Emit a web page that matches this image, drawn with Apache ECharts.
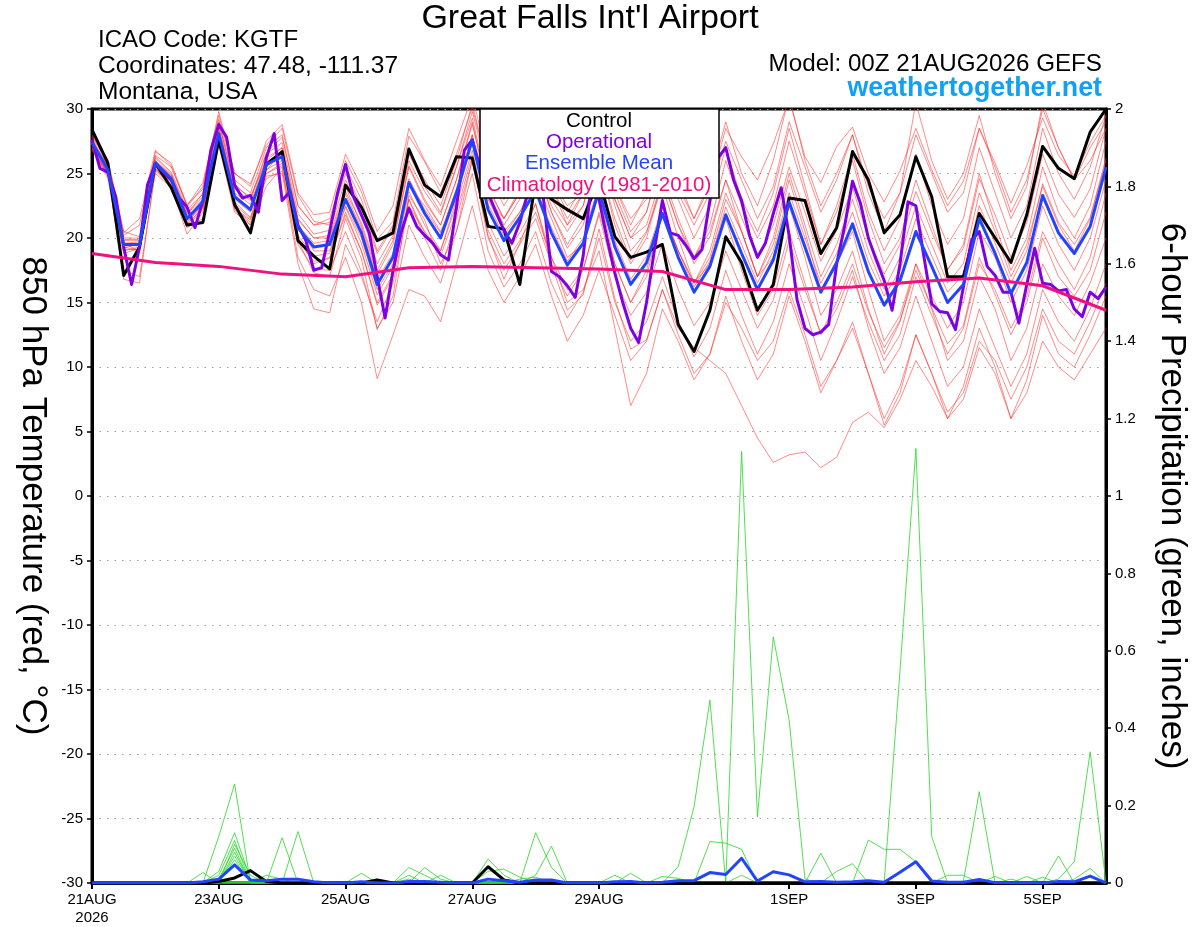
<!DOCTYPE html>
<html>
<head>
<meta charset="utf-8">
<script src="https://cdn.jsdelivr.net/npm/echarts@6/dist/echarts.min.js"></script>
<style>
html,body{margin:0;padding:0;background:#fff;}
#chart{width:1200px;height:927px;}
</style>
</head>
<body>
<div id="chart"></div>
<script>
// ---------- axis ticks / labels ----------
const tickHours = [0, 48, 96, 144, 192, 264, 312, 360];
const tickLabels = ['21AUG\n2026', '23AUG', '25AUG', '27AUG', '29AUG', '1SEP', '3SEP', '5SEP'];

// ---------- 850 hPa temperature (6-hourly unless noted) ----------
const controlTemp = [28.4,25.8,17.1,19.3,25.8,23.9,21.0,21.2,
  27.6,22.6,20.4,25.7,26.7,19.8,18.6,17.6,
  24.1,22.4,19.8,20.4,26.9,24.1,23.2,26.3,
  26.2,20.9,20.7,16.4,24.5,23.0,22.2,21.5,
  24.6,20.1,18.5,18.9,19.5,13.3,11.2,14.4,
  20.1,18.1,14.4,16.4,23.1,22.9,18.8,20.8,
  26.7,24.5,20.4,21.8,26.3,23.2,17.0,17.0,
  21.9,20.0,18.1,21.8,27.1,25.4,24.6,28.2,
  30.0];

// operational run is 3-hourly
const operationalTemp = [27.6,25.4,25.1,23.2,19.3,16.4,19.3,24.1,
  25.8,25.1,24.5,23.1,22.4,20.8,22.9,26.8,
  28.8,27.8,24.1,23.1,23.3,22.0,26.2,28.1,
  22.9,23.6,21.0,19.8,17.5,17.7,20.5,23.5,
  25.7,23.2,21.8,20.4,17.0,13.8,17.5,20.4,
  22.3,20.9,20.2,19.6,18.7,18.3,22.4,26.8,
  27.6,25.5,23.5,22.0,20.6,19.6,21.2,23.5,
  25.0,23.0,17.4,17.0,16.3,15.4,18.6,24.0,
  23.0,20.0,17.3,15.0,13.0,11.9,15.0,19.1,
  22.9,20.4,20.2,19.4,18.4,19.1,22.9,26.2,
  27.0,24.5,22.9,20.2,18.5,19.6,21.9,23.9,
  20.2,15.2,13.0,12.5,12.7,13.3,18.0,20.9,
  24.4,22.7,20.0,18.3,16.7,14.4,18.0,22.8,
  22.5,18.6,14.9,14.3,14.2,12.9,16.2,19.8,
  20.5,17.8,17.1,15.8,15.8,13.4,16.4,19.2,
  16.5,16.4,15.9,16.0,14.5,13.9,15.8,15.3,
  16.2];

const meanTemp = [27.4,25.3,19.5,19.5,25.8,24.6,21.5,22.8,28.1,
  23.2,22.2,25.7,26.3,20.8,19.3,19.5,23.0,
  20.4,16.4,18.5,24.3,21.9,20.0,23.5,27.6,
  22.2,19.8,21.6,23.7,20.4,17.9,19.6,23.7,
  19.3,16.4,18.1,21.9,18.5,15.8,17.8,21.8,
  18.8,16.0,18.3,22.8,19.3,15.8,18.1,21.1,
  17.4,14.8,16.7,20.5,17.8,15.0,16.4,21.5,
  18.8,15.7,18.1,23.3,20.4,18.8,20.9,25.5];

// climatology, daily (every 24 h)
const climoTemp = [18.8,18.1,17.8,17.2,17.0,17.7,17.8,17.7,17.6,17.4,16.0,16.0,16.2,16.6,16.9,16.3,14.4];

// ensemble members (6-hourly)
const member01 = [27.9,26.1,20.5,20.1,26.7,25.8,22.5,24.3,29.5, 25.0,24.2,27.2,28.5,23.3,21.3,21.0,26.0, 23.6,19.9,21.3,27.9,25.9,23.5,26.5,30.1, 25.5,23.5,25.0,27.5,24.5,22.5,23.5,28.0, 24.0,21.5,23.0,27.0,24.0,21.5,24.0,28.5, 26.3,24.5,27.3,30.8,26.3,24.3,27.1,28.6, 25.0,22.8,25.2,28.5,25.3,22.5,24.4,28.5, 25.8,22.7,25.6,29.3,26.4,24.8,27.4,29.5];
const member02 = [26.9,25.0,16.8,16.5,25.4,24.0,20.3,22.0,27.8, 22.2,20.7,25.2,26.8,19.8,17.3,17.0,21.5, 18.4,12.9,15.5,23.3,21.4,18.0,20.5,26.1, 20.2,16.8,19.6,22.7,17.9,14.4,15.6,20.7, 15.3,11.4,12.1,16.0,13.0,11.5,10.5,9.5, 7.0,4.5,2.6,3.2,3.4,2.2,3.0,5.7, 6.5,5.3,7.5,10.5,8.5,6.0,7.5,11.5, 9.5,6.0,8.0,12.0,10.0,9.0,11.0,13.0];
const member03 = [27.0,24.6,18.8,19.2,25.0,23.9,20.8,21.5,27.2, 22.0,21.0,24.0,25.5,18.5,16.0,15.5,18.5, 15.0,9.1,12.5,16.0,15.5,13.5,18.0,22.5, 17.5,15.0,17.0,19.5,15.5,12.0,14.0,17.5, 14.0,10.5,12.0,16.0,12.5,9.5,11.0,15.5, 12.0,9.0,11.0,15.5,12.0,8.0,10.5,13.5, 9.5,5.5,8.0,12.5,9.5,6.0,8.5,13.0, 10.0,6.0,9.0,14.0,11.0,10.0,12.5,15.5];
const member04 = [27.6,25.6,19.9,19.8,26.2,25.0,22.0,23.2,28.6, 23.8,22.9,26.5,27.4,21.9,20.3,20.6,24.5, 21.9,18.0,20.2,26.0,23.6,21.8,25.5,29.3, 24.0,21.5,23.8,26.0,22.0,19.2,21.0,25.8, 21.5,18.3,20.4,24.6,21.0,18.0,20.1,24.5, 21.6,18.5,21.0,25.5,22.0,18.2,20.6,23.9, 20.0,17.2,19.5,23.6,20.5,17.6,19.2,24.6, 21.8,18.5,21.2,26.5,23.4,21.6,23.8,28.5];
const member05 = [27.1,24.9,19.0,19.3,25.4,24.2,21.0,22.4,27.7, 22.6,21.5,25.0,25.6,19.8,18.2,18.4,21.8, 19.0,15.0,17.2,23.0,20.4,18.6,22.0,26.4, 20.6,18.0,19.8,22.0,18.5,16.0,17.6,21.8, 17.0,14.0,15.8,19.6,16.0,13.2,15.0,19.0, 16.0,13.0,15.2,19.8,16.0,12.6,15.0,18.0, 14.3,11.5,13.6,17.5,14.6,11.8,13.2,18.5, 15.6,12.5,15.0,20.0,17.0,15.5,17.5,22.0];
const member06 = [27.8,25.9,20.2,21.0,26.4,25.5,22.6,23.8,29.2, 24.5,23.5,27.0,28.0,22.5,21.0,21.5,25.5, 23.0,19.0,21.0,26.8,24.5,22.5,26.0,30.4, 25.5,23.0,24.5,27.5,24.0,21.0,23.5,27.5, 23.5,20.5,22.0,26.5,23.0,20.0,22.5,27.0, 23.0,20.5,23.5,28.5,24.0,19.5,22.0,26.0, 21.5,18.0,20.0,24.5,21.0,17.5,19.5,25.0, 21.0,17.5,20.0,25.5,22.0,20.0,22.5,27.5];
const member07 = [26.8,24.8,17.5,17.0,25.2,24.0,20.9,22.2,27.6, 22.4,21.2,24.6,25.2,19.5,17.6,17.5,20.5, 17.4,13.0,15.0,21.0,18.5,16.5,20.5,25.0, 19.0,16.2,18.0,20.5,16.5,13.8,15.8,20.0, 15.0,12.0,13.5,17.0,13.5,10.8,13.0,17.5, 14.0,11.0,13.5,18.0,14.5,10.5,13.5,17.0, 13.5,10.5,12.5,17.0,14.0,11.0,13.0,18.0, 16.0,13.0,15.5,20.5,18.0,16.0,18.5,23.5];
const member08 = [28.0,25.8,19.6,19.0,26.0,24.9,21.8,23.5,29.0, 24.0,23.2,26.0,27.0,21.4,20.0,20.2,24.0, 21.0,17.2,19.5,25.5,22.8,21.0,24.5,29.0, 23.5,21.0,23.0,25.5,22.0,19.5,21.5,26.0, 21.0,18.0,20.0,24.5,21.0,18.5,21.0,26.0, 22.5,20.0,22.5,27.5,23.5,19.5,22.5,26.5, 22.0,19.0,21.5,26.5,22.5,19.5,21.5,27.0, 23.5,20.0,22.5,28.5,25.0,23.0,25.5,29.5];
const member09 = [27.3,25.0,19.2,19.6,25.6,24.3,21.2,22.6,27.9, 22.8,21.6,25.3,26.0,20.2,18.6,18.8,22.4, 19.6,15.6,17.8,23.6,21.0,19.0,22.6,26.8, 21.2,18.6,20.4,22.6,18.5,15.0,16.0,19.0, 13.0,7.0,9.5,14.5,12.0,9.0,11.0,15.0, 13.0,10.5,12.0,16.0,12.5,8.5,10.5,13.0, 9.5,6.0,8.5,12.5,9.5,6.5,8.0,12.0, 10.5,7.5,10.0,14.5,12.0,11.0,13.5,16.5];
const member10 = [27.5,25.5,19.8,19.9,26.0,24.8,21.9,23.0,28.5, 23.5,22.6,26.2,27.0,21.5,20.0,20.0,23.6, 21.2,17.5,19.8,25.6,23.0,21.0,24.5,28.8, 23.8,21.5,23.5,25.8,22.5,20.5,22.5,27.0, 23.0,20.0,22.0,26.5,23.5,21.0,23.5,27.5, 24.5,21.5,24.0,29.0,25.5,22.0,24.5,28.0, 24.0,21.5,23.5,28.0,25.0,22.0,23.5,28.5, 25.5,22.0,24.5,30.0,27.0,24.5,26.0,28.5];
const member11 = [27.2,25.2,19.4,19.4,25.7,24.5,21.4,22.7,28.0, 23.0,22.0,25.5,26.5,21.0,19.0,19.0,22.5, 20.0,16.0,18.0,24.0,22.5,20.5,23.0,28.0, 23.0,20.5,22.0,24.5,21.5,18.5,19.5,23.5, 18.0,15.0,17.0,22.0,19.0,16.5,19.0,23.5, 20.5,17.0,18.5,22.5,18.5,14.0,16.0,19.0, 14.5,11.0,13.5,18.0,15.5,13.0,15.0,20.5, 18.5,15.0,17.5,22.5,19.5,17.5,20.0,24.5];
const member12 = [27.7,25.6,20.0,20.0,26.3,25.1,22.2,23.4,28.9, 24.2,23.0,26.6,27.8,22.5,21.0,21.2,25.0, 22.5,18.8,20.8,26.5,24.0,22.0,25.5,29.8, 25.0,22.5,24.5,27.0,24.0,21.5,23.5,27.0, 22.5,19.0,20.5,24.0,20.0,16.5,18.0,21.5, 17.5,14.0,16.0,20.5,16.5,12.5,14.5,17.5, 13.0,9.5,11.5,15.5,12.0,8.5,10.0,14.5, 11.5,8.5,11.0,16.0,13.5,12.0,14.5,18.0];
const member13 = [27.5,25.2,19.6,19.7,25.9,24.7,21.6,22.9,28.3, 23.3,22.3,25.9,26.6,21.0,19.6,19.8,23.4, 20.8,16.8,18.8,24.6,22.2,20.4,23.8,28.0, 22.6,20.2,22.0,24.0,20.8,18.2,20.0,24.2, 19.8,16.8,18.6,22.4,19.0,16.2,18.2,22.4, 19.5,16.5,19.0,23.5,20.0,16.5,18.8,22.0, 18.2,15.5,17.5,21.5,18.6,15.8,17.2,22.5, 19.6,16.5,19.0,24.2,21.2,19.5,21.6,26.2];
const member14 = [27.0,25.1,19.3,19.0,25.5,24.4,21.3,22.5,27.9, 22.5,21.0,24.8,25.0,18.0,14.5,14.2,19.5, 17.0,13.5,16.5,22.5,20.5,19.0,23.0,27.5, 23.0,21.5,23.5,25.5,23.0,21.0,22.5,27.0, 23.0,20.0,21.0,25.0,21.5,18.5,20.5,24.5, 20.5,17.0,19.5,24.5,20.5,16.0,18.0,20.5, 16.0,12.0,14.0,18.0,14.5,10.5,12.0,17.0, 14.5,10.5,13.0,18.0,15.5,14.0,16.5,20.0];
const member15 = [28.2,26.0,20.4,21.5,26.8,25.6,22.4,24.0,29.8, 25.0,24.0,27.5,28.8,23.5,21.8,22.0,26.5, 24.0,20.5,22.5,28.5,26.0,24.0,27.5,31.0, 26.0,23.0,25.0,28.0,24.5,22.0,24.0,29.0, 24.0,21.0,23.5,28.5,24.5,21.5,24.5,29.0, 25.0,22.5,26.0,31.0,26.0,22.5,25.0,28.0, 23.5,20.5,23.5,30.5,26.0,23.0,25.0,29.5, 25.0,21.5,24.0,30.5,27.0,24.5,27.0,29.0];
const member16 = [26.9,24.9,19.1,19.1,25.3,24.1,21.1,22.3,27.5, 22.3,21.4,25.0,25.8,20.0,18.0,18.5,22.0, 19.0,14.8,17.0,23.0,20.0,17.5,21.5,26.0, 20.0,17.5,19.5,21.5,18.0,15.5,17.5,22.0, 18.0,15.0,17.5,22.0,19.0,16.5,18.5,23.0, 20.5,17.0,20.0,25.0,21.0,17.0,19.5,23.0, 19.0,16.0,18.5,22.5,19.5,16.5,18.0,23.5, 20.5,17.0,19.5,24.0,21.0,19.0,21.5,26.0];
const tempMembers = [member01,member02,member03,member04,member05,member06,member07,member08,
  member09,member10,member11,member12,member13,member14,member15,member16];

// ---------- 6-hour precipitation (inches, 6-hourly) ----------
const controlPrecip = [0,0,0,0,0,0,0,0,.004,.013,.032,.004,0, 0,0,0,0,0,.008,0,0,0,0,0,0,.042, .008,0,0,0,0,0,0,0,0,0,0,0,0, 0,0,0,0,0,0,0,0,0,0,0,0,0, 0,0,0,0,0,0,0,0,0,0,0,0,0];
const meanPrecip = [0,0,0,0,0,0,0,.003,.01,.047,.008,.006,.01, .01,.003,0,0,.003,0,0,.004,.004,.002,0,0,.01, .006,.002,.008,.008,0,0,0,.003,.004,0,.002,.006,.006, .027,.022,.064,.005,.029,.021,.003,.004,.002,.003,.006,.002,.028, .055,.005,.002,.002,.009,.001,0,0,0,.004,.003,.018,0];
const pcp01 = [0,0,0,0,0,0,0,0,.12,.256,0,0,0, 0,0,0,0,0,0,0,0,0,0,0,0,0, 0,0,0,0,0,0,0,.02,0,0,0,0,0, 0,0,.02,0,0,0,0,0,0,0,0,0,0, 0,0,0,0,0,0,0,0,0,0,0,0,0];
const pcp02 = [0,0,0,0,0,0,0,0,.03,.13,.01,0,0, 0,0,0,0,0,0,0,0,0,0,0,0,0, 0,.01,.015,0,0,0,0,0,0,0,0,0,0, 0,0,0,0,0,0,0,.077,0,0,0,0,0, 0,0,0,0,0,0,0,0,0,0,0,0,0];
const pcp03 = [0,0,0,0,0,0,0,0,.02,.11,0,0,0, 0,0,0,0,.025,0,0,0,0,0,0,0,0, 0,0,0,0,0,0,0,0,0,0,0,0,0, 0,0,0,0,0,0,0,0,.03,.05,0,0,0, 0,0,0,0,0,0,0,0,0,0,0,0,0];
const pcp04 = [0,0,0,0,0,0,0,0,0,.1,.02,0,0, 0,0,0,0,0,0,0,.04,.02,0,0,0,0, 0,0,0,0,0,0,0,0,0,0,0,0,0, 0,0,0,0,0,0,0,0,0,0,.111,.087,.087, .055,0,0,0,0,0,0,0,0,0,0,0,0];
const pcp05 = [0,0,0,0,0,0,0,0,.01,.09,0,0,0, 0,0,0,0,0,0,0,0,.04,.01,0,0,0, 0,0,0,0,0,0,0,0,0,0,.017,.012,0, 0,0,0,0,0,0,0,0,0,0,0,0,0, 0,0,0,0,0,0,0,0,0,0,0,0,0];
const pcp06 = [0,0,0,0,0,0,0,0,0,.08,0,0,0, 0,0,0,0,0,0,0,.01,0,.02,0,0,0, 0,0,0,0,0,0,0,0,0,0,0,0,0, 0,0,0,0,0,0,0,0,0,0,0,0,.55, 1.123,.12,0,0,0,0,0,0,0,0,0,0,0];
const pcp07 = [0,0,0,0,0,0,0,.027,0,.07,0,0,0, 0,0,0,0,0,0,0,0,0,0,0,0,.062, .02,0,0,0,0,0,0,0,0,0,0,0,0, 0,0,0,0,0,0,0,0,0,0,0,0,0, 0,0,0,.005,.236,0,0,0,0,0,0,0,0];
const pcp08 = [0,0,0,0,0,0,0,0,0,.06,0,0,0, 0,0,0,0,0,0,0,0,0,0,0,0,.03, .036,.015,0,0,0,0,0,0,0,0,0,0,0, 0,0,0,0,0,0,0,0,0,0,0,0,0, 0,0,.02,.02,0,0,.01,0,0,0,0,0,0];
const pcp09 = [0,0,0,0,0,0,0,0,0,0,0,0,.117, 0,0,0,0,0,0,0,0,0,0,0,0,0, 0,0,.13,.04,0,0,0,0,0,0,0,0,0, 0,0,0,0,0,0,0,0,0,0,0,0,0, 0,0,0,0,0,0,0,0,0,.07,0,0,0];
const pcp10 = [0,0,0,0,0,0,0,0,0,0,0,0,0, .133,0,0,0,0,0,0,0,0,0,0,0,0, 0,0,.02,.095,0,0,0,0,0,0,0,0,0, 0,0,0,0,0,0,0,0,0,0,0,0,0, 0,0,0,0,0,0,0,0,0,.01,.055,.339,0];
const pcp11 = [0,0,0,0,0,0,0,0,0,0,0,.02,.01, 0,0,0,0,0,0,0,0,0,0,0,0,0, 0,0,0,0,0,0,0,0,0,0,0,.042,.197, .473,0,0,0,0,0,0,0,0,0,0,0,0, 0,0,0,0,0,0,0,0,0,0,0,0,0];
const pcp12 = [0,0,0,0,0,0,0,0,0,0,0,0,0, 0,0,0,0,0,0,0,0,0,0,0,0,0, 0,0,0,0,0,0,0,0,0,0,0,0,0, 0,0,1.115,.171,.636,.421,.01,0,0,0,0,0,0, 0,0,0,0,0,0,0,0,0,0,0,0,0];
const pcp13 = [0,0,0,0,0,0,0,0,0,0,0,0,0, 0,0,0,0,0,0,0,0,0,0,0,0,0, 0,0,0,0,0,0,0,0,0,0,0,0,0, .107,.103,.087,0,0,0,0,0,0,0,0,0,0, 0,0,0,0,0,0,0,.017,0,0,.01,.038,0];
const pcp14 = [0,0,0,0,0,0,0,0,0,0,0,0,0, 0,0,0,0,0,.01,0,.02,0,0,0,0,0, 0,0,0,0,0,0,0,0,.025,0,0,0,0, 0,0,0,0,0,0,0,0,0,0,0,0,0, 0,0,0,0,0,.017,0,0,.015,0,0,0,0];
const precipMembers = [pcp01,pcp02,pcp03,pcp04,pcp05,pcp06,pcp07,pcp08,pcp09,pcp10,pcp11,pcp12,pcp13,pcp14];

// ---------- build ----------
const FONT = '"Liberation Sans", Arial, Helvetica, sans-serif';
const withHours = (arr, step) => arr.map((v, i) => [i * step, v]);
const labelOf = {};
tickHours.forEach((h, i) => { labelOf[h] = tickLabels[i]; });

const COL = {
  member: 'rgba(255,45,45,0.62)',
  precip: 'rgba(40,215,40,0.9)',
  control: '#000000',
  oper: '#7f00e0',
  mean: '#2244ff',
  climo: '#f0107f'
};

function lineSeries(data, yIdx, color, width, z) {
  return {
    type: 'line', data: data, yAxisIndex: yIdx, xAxisIndex: 0,
    showSymbol: false, symbol: 'none', silent: true, animation: false,
    lineStyle: { color: color, width: width, join: 'round' }, z: z
  };
}

const series = [];
precipMembers.forEach(p => series.push(lineSeries(withHours(p, 6), 1, COL.precip, 0.9, 2)));
tempMembers.forEach(m => series.push(lineSeries(withHours(m, 6), 0, COL.member, 0.9, 3)));
series.push(lineSeries(withHours(controlPrecip, 6), 1, COL.control, 3, 4));
series.push(lineSeries(withHours(meanPrecip, 6), 1, COL.mean, 3, 5));
series.push(lineSeries(withHours(controlTemp, 6), 0, COL.control, 3, 6));
series.push(lineSeries(withHours(operationalTemp, 3), 0, COL.oper, 3, 7));
series.push(lineSeries(withHours(meanTemp, 6), 0, COL.mean, 3, 8));
series.push(lineSeries(withHours(climoTemp, 24), 0, COL.climo, 3, 9));

function txt(text, x, y, size, color, align, bold) {
  return {
    type: 'text', x: x, y: y, z: 200, silent: true,
    style: {
      text: text, fill: color,
      font: (bold ? 'bold ' : '') + size + 'px ' + FONT,
      align: align, verticalAlign: 'middle',
      textAlign: align, textVerticalAlign: 'middle'
    }
  };
}

const option = {
  backgroundColor: '#ffffff',
  animation: false,
  textStyle: { fontFamily: FONT },
  grid: {
    left: 92, right: 94, top: 109, bottom: 44,
    show: true, borderColor: '#000', borderWidth: 3, backgroundColor: 'transparent'
  },
  xAxis: {
    type: 'value', min: 0, max: 384,
    axisLine: { show: true, onZero: false, lineStyle: { color: '#000', width: 3 } },
    axisTick: { show: true, customValues: tickHours, length: 6, lineStyle: { color: '#000', width: 2 } },
    axisLabel: {
      customValues: tickHours, color: '#000', fontSize: 15, margin: 8, lineHeight: 18,
      fontFamily: FONT, formatter: v => labelOf[v] !== undefined ? labelOf[v] : ''
    },
    splitLine: { show: false }
  },
  yAxis: [
    {
      type: 'value', min: -30, max: 30, interval: 5, position: 'left',
      name: '850 hPa Temperature (red, \u00B0C)', nameLocation: 'middle', nameGap: 38, nameRotate: -90,
      nameTextStyle: { fontSize: 35, color: '#000', fontFamily: FONT },
      axisLine: { show: true, onZero: false, lineStyle: { color: '#000', width: 3 } },
      axisTick: { show: true, length: 5, lineStyle: { color: '#000', width: 1.5 } },
      axisLabel: { color: '#000', fontSize: 15, margin: 9, fontFamily: FONT },
      splitLine: { show: true, lineStyle: { color: '#a0a0a0', width: 1.2, type: [1.5, 6] } }
    },
    {
      type: 'value', min: 0, max: 2, interval: 0.2, position: 'right',
      name: '6-hour Precipitation (green, inches)', nameLocation: 'middle', nameGap: 48, nameRotate: -90,
      nameTextStyle: { fontSize: 35, color: '#000', fontFamily: FONT },
      axisLine: { show: true, onZero: false, lineStyle: { color: '#000', width: 3 } },
      axisTick: { show: true, length: 5, lineStyle: { color: '#000', width: 1.5 } },
      axisLabel: { color: '#000', fontSize: 15, margin: 9, fontFamily: FONT },
      splitLine: { show: false }
    }
  ],
  graphic: [
    txt("Great Falls Int'l Airport", 590, 19, 34, '#000', 'center', false),
    txt('ICAO Code: KGTF', 98, 40, 24, '#000', 'left', false),
    txt('Coordinates: 47.48, -111.37', 98, 66, 24.5, '#000', 'left', false),
    txt('Montana, USA', 98, 92, 24.5, '#000', 'left', false),
    txt('Model: 00Z 21AUG2026 GEFS', 1102, 64, 24.2, '#000', 'right', false),
    txt('weathertogether.net', 1102, 89, 26.8, '#12a0f5', 'right', true),
    {
      type: 'rect', z: 190, silent: true,
      shape: { x: 480, y: 109, width: 239, height: 89 },
      style: { fill: '#fff', stroke: '#000', lineWidth: 1.5 }
    },
    txt('Control', 599, 121, 20.5, COL.control, 'center', false),
    txt('Operational', 599, 142, 20.5, COL.oper, 'center', false),
    txt('Ensemble Mean', 599, 163, 20.5, COL.mean, 'center', false),
    txt('Climatology (1981-2010)', 599, 185, 20.5, COL.climo, 'center', false)
  ],
  series: series
};

const chart = echarts.init(document.getElementById('chart'), null, { renderer: 'canvas' });
chart.setOption(option);
</script>
</body>
</html>
